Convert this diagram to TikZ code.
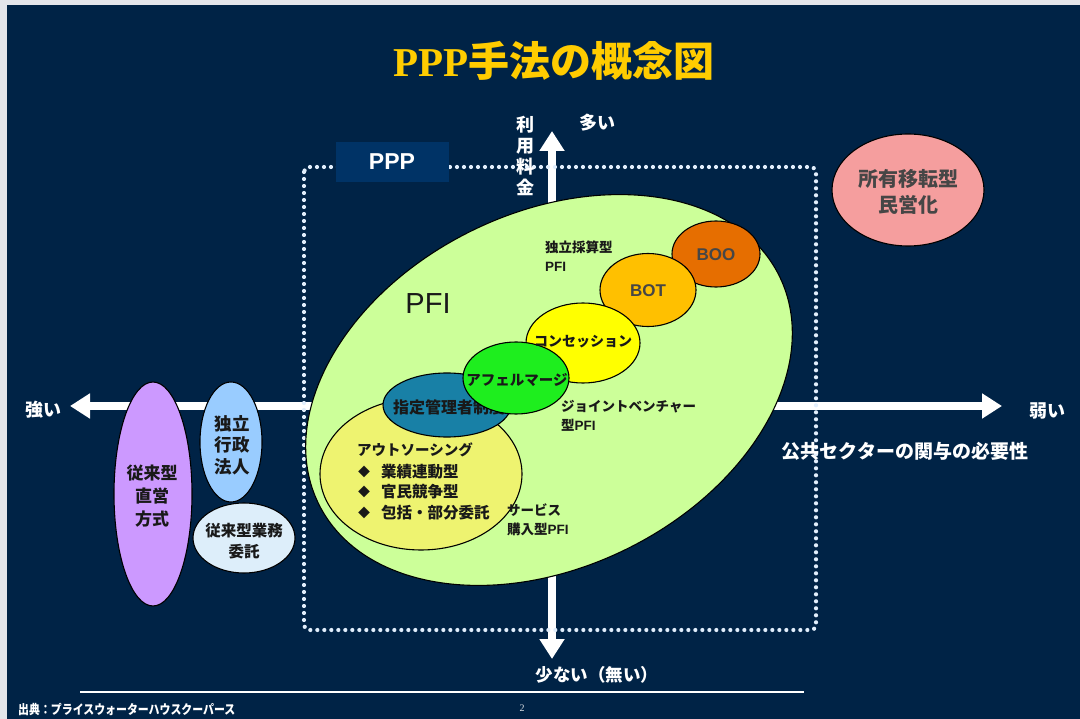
\documentclass[tikz,border=0pt]{standalone}
\usepackage{fontspec}
\setmainfont{Noto Sans CJK JP}
\newfontfamily\latf{Liberation Sans}
\newfontfamily\serf{Liberation Serif}
\usetikzlibrary{shapes.geometric,arrows.meta}
\definecolor{bg}{RGB}{0,35,70}
\definecolor{bordc}{RGB}{228,230,235}
\definecolor{gold}{RGB}{255,204,0}
\definecolor{pppc}{RGB}{0,51,102}
\definecolor{dotc}{RGB}{225,238,252}
\definecolor{pfig}{RGB}{204,255,153}
\definecolor{outc}{RGB}{238,243,112}
\definecolor{shic}{RGB}{24,128,166}
\definecolor{afec}{RGB}{30,238,30}
\definecolor{conc}{RGB}{255,255,0}
\definecolor{botc}{RGB}{255,192,0}
\definecolor{booc}{RGB}{230,110,0}
\definecolor{purc}{RGB}{204,153,255}
\definecolor{bluc}{RGB}{153,204,255}
\definecolor{litc}{RGB}{221,238,250}
\definecolor{pinc}{RGB}{245,158,158}
\definecolor{txtdk}{RGB}{25,25,25}
\definecolor{txtgr}{RGB}{70,70,70}
\newcommand\myfs[1]{\fontsize{#1pt}{#1pt}\selectfont}
\begin{document}
\begin{tikzpicture}[x=1pt,y=-1pt,
  ell/.style={ellipse, draw=black, line width=1.1pt, inner sep=0pt},
  dk/.style={text=txtdk, inner sep=0pt, font=\bfseries},
  wt/.style={text=white, inner sep=0pt, font=\bfseries},
  axisline/.style={draw=white, line width=8pt, {Triangle[width=24pt,length=20pt]}-{Triangle[width=24pt,length=20pt]}},
  dots/.style={draw=dotc, line width=4.2pt, line cap=round, dash pattern=on 0pt off 7pt, rounded corners=5pt}]
\useasboundingbox (0,0) rectangle (1080,719);
\fill[bordc] (0,0) rectangle (1080,719);
\fill[bg] (7,5) rectangle (1080,719);

% title
\node[text=gold, inner sep=0pt, font=\bfseries\myfs{41}] (title) at (554,61) {{\serf PPP}手法の概念図};

% axes
\coordinate (hl) at (70,406);
\coordinate (hr) at (1002,406);
\coordinate (vt) at (552,131);
\coordinate (vb) at (552,659);
\draw[axisline] (hl) -- (hr);
\draw[axisline] (vt) -- (vb);

% dotted PPP frame
\draw[dots] (304,167) rectangle (816,630);
\node[fill=pppc, minimum width=113pt, minimum height=40pt, inner sep=0pt, text=white, font=\latf\bfseries\myfs{23}] (ppp) at (392,162) {PPP};

% axis labels
\node[wt, font=\bfseries\myfs{18}] (strong) at (43,410) {強い};
\node[wt, font=\bfseries\myfs{18}] (weak) at (1047,411) {弱い};
\node[wt, font=\bfseries\myfs{18}] (many) at (597,123) {多い};
\node[wt, font=\bfseries\myfs{17.5}] (few) at (597,675) {少ない（無い）};
\node[wt, font=\bfseries\myfs{18}, align=center] (fee) at (525,156) {利\\[3pt]用\\[3pt]料\\[3pt]金};
\node[wt, font=\bfseries\myfs{19}] (need) at (905,451) {公共セクターの関与の必要性};

% PFI big ellipse
\node[ell, fill=pfig, rotate=26.4, minimum width=514pt, minimum height=354pt] (pfi) at (549,390) {};
\node[text=txtdk, inner sep=0pt, font=\latf\myfs{29}] (pfilbl) at (428,304) {PFI};

% inner ellipses
\node[ell, fill=outc, minimum width=202pt, minimum height=152pt] (outs) at (421,474) {};
\node[ell, fill=shic, minimum width=128pt, minimum height=64pt] (shitei) at (447,405) {};
\node[dk, anchor=west, font=\bfseries\myfs{16}] (shiteit) at (393,407) {指定管理者制度};
\node[ell, fill=booc, minimum width=88pt, minimum height=66pt] (boo) at (716,254) {};
\node[ell, fill=botc, minimum width=96pt, minimum height=73pt] (bot) at (648,290) {};
\node[ell, fill=conc, minimum width=114pt, minimum height=80pt] (conce) at (583,343) {};
\node[ell, fill=afec, minimum width=106pt, minimum height=72pt] (afer) at (516,378) {};

\node[text=txtgr, inner sep=0pt, font=\latf\bfseries\myfs{17}] (boot) at (716,255) {BOO};
\node[text=txtgr, inner sep=0pt, font=\latf\bfseries\myfs{17}] (bott) at (648,291) {BOT};
\node[dk, font=\bfseries\myfs{14}] (concet) at (583,342) {コンセッション};
\node[dk, font=\bfseries\myfs{14.5}] (afert) at (517,380) {アフェルマージ};

% PFI texts
\node[dk, anchor=west, align=left, font=\bfseries\myfs{13.5}] (indep) at (545,256) {独立採算型\\[5pt]{\latf PFI}};
\node[dk, anchor=west, align=left, font=\bfseries\myfs{13.5}] (jv) at (561,416) {ジョイントベンチャー\\[5pt]型{\latf PFI}};
\node[dk, anchor=west, align=left, font=\bfseries\myfs{13.5}] (serv) at (507,520) {サービス\\[5pt]購入型{\latf PFI}};

% outsourcing text
\node[dk, anchor=west, font=\bfseries\myfs{14.5}] (outt) at (357,450) {アウトソーシング};
\node[dk, font=\myfs{12}] (b1) at (364,472) {◆};
\node[dk, font=\myfs{12}] (b2) at (364,492) {◆};
\node[dk, font=\myfs{12}] (b3) at (364,513) {◆};
\node[dk, anchor=west, font=\bfseries\myfs{15.5}] (o1) at (381,472) {業績連動型};
\node[dk, anchor=west, font=\bfseries\myfs{15.5}] (o2) at (381,492) {官民競争型};
\node[dk, anchor=west, font=\bfseries\myfs{15.5}] (o3) at (381,513) {包括・部分委託};

% left ellipses
\node[ell, fill=purc, minimum width=78pt, minimum height=224pt] (jurai) at (153,494) {};
\node[dk, align=center, font=\bfseries\myfs{17}] (juraitx) at (152,496) {従来型\\[6pt]直営\\[6pt]方式};
\node[ell, fill=bluc, minimum width=62pt, minimum height=120pt] (dokuritsu) at (231,442) {};
\node[dk, align=center, font=\bfseries\myfs{17.5}] (dokuritsutx) at (232,445) {独立\\[4pt]行政\\[4pt]法人};
\node[ell, fill=litc, minimum width=102pt, minimum height=70pt] (itaku) at (244,538) {};
\node[dk, align=center, font=\bfseries\myfs{15.5}] (itakutx) at (244,541) {従来型業務\\[5pt]委託};

% privatization
\node[ell, fill=pinc, minimum width=152pt, minimum height=112pt] (priv) at (908,190) {};
\node[text=txtgr, inner sep=0pt, align=center, font=\bfseries\myfs{20}] (privtx) at (908,192) {所有移転型\\[6pt]民営化};

% footer
\coordinate (fl) at (80,692);
\coordinate (fr) at (804,692);
\draw[white, line width=2.5pt] (fl) -- (fr);
\node[text=white!85!bg, inner sep=0pt, font=\serf\myfs{10}] (pageno) at (522,708) {2};
\node[text=white, inner sep=0pt, anchor=west, font=\bfseries\myfs{13}, xscale=0.84] (src) at (18,709) {出典：プライスウォーターハウスクーパース};
\end{tikzpicture}
\end{document}
